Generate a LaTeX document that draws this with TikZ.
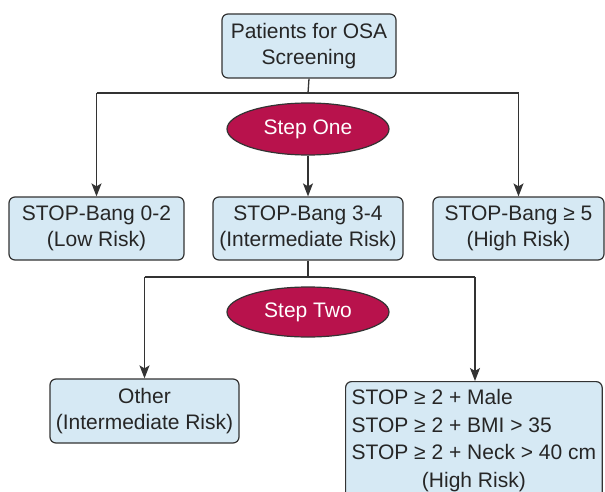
\documentclass[tikz,border=0pt]{standalone}
\usepackage{fontspec}
\setmainfont{Liberation Sans}
\usetikzlibrary{shapes.geometric,arrows.meta}
\definecolor{boxblue}{HTML}{D6E9F4}
\definecolor{stepred}{HTML}{B8124C}
\definecolor{linegray}{HTML}{333333}
\begin{document}
\begin{tikzpicture}[x=1pt,y=-1pt,
  font=\fontsize{21}{26}\selectfont,
  box/.style={draw=linegray,line width=1.2pt,fill=boxblue,rounded corners=6pt,align=center,inner sep=3pt,text=black!85},
  oval/.style={ellipse,draw=linegray,line width=1.2pt,fill=stepred,text=white,inner sep=0pt,minimum width=162pt,minimum height=52pt},
  link/.style={draw=linegray,line width=1.3pt},
  arr/.style={link,-{Stealth[length=13pt,width=10pt,inset=3pt]}}]
\clip(0,0)rectangle(605,492);
\fill[white](0,0)rectangle(605,492);
\def\ya{93}
\def\yb{277}
\node[box,minimum width=174pt,minimum height=64pt](top)at(309,46){Patients for OSA\\Screening};
\node[oval](one)at(308,129){Step One};
\node[box,minimum width=175pt,minimum height=63pt](low)at(96.5,228.5){STOP-Bang 0-2\\(Low Risk)};
\node[box,minimum width=190pt,minimum height=63pt](mid)at(308,228.5){STOP-Bang 3-4\\(Intermediate Risk)};
\node[box,minimum width=171pt,minimum height=63pt](high)at(518.5,228.5){STOP-Bang ≥ 5\\(High Risk)};
\node[oval,minimum height=50pt](two)at(308,312){Step Two};
\node[box,minimum width=189pt,minimum height=64pt](other)at(144.5,411){Other\\(Intermediate Risk)};
\node[box,anchor=north west,align=left,inner xsep=6pt,inner ysep=4pt,font=\fontsize{21}{27.5}\selectfont](stop)at(345,381){\begin{tabular}{@{}l@{}}STOP ≥ 2 + Male\\STOP ≥ 2 + BMI > 35\\STOP ≥ 2 + Neck > 40 cm\\\multicolumn{1}{@{}c@{}}{(High Risk)}\\[8pt]\end{tabular}};
\coordinate(j1)at(308,\ya);
\coordinate(j2)at(308,\yb);
\coordinate(r2)at(475,\yb);
\draw[link](top.south)--(j1);
\draw[link](j1-|low)--(j1-|high);
\draw[arr](j1-|low)--(low.north);
\draw[arr](j1-|high)--(high.north);
\draw[arr](one.south)--(mid.north);
\draw[link](mid.south)--(j2);
\draw[link](j2-|other)--(r2);
\draw[arr](j2-|other)--(other.north);
\draw[arr](r2)--(r2|-stop.north);
\end{tikzpicture}
\end{document}
